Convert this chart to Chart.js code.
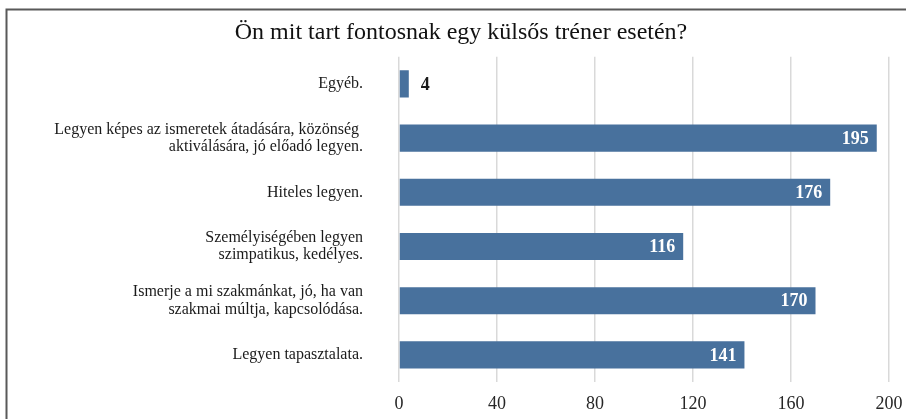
<!DOCTYPE html>
<html>
<head>
<meta charset="utf-8">
<script src="https://cdn.jsdelivr.net/npm/chart.js@4"></script>
<style>
  html, body { margin: 0; padding: 0; background: #fff; overflow: hidden; }
  canvas { display: block; }
</style>
</head>
<body>
<canvas id="chart" width="906" height="419"></canvas>
<script>
// data
const titleText = "Ön mit tart fontosnak egy külsős tréner esetén?";
const categories = [
  "Egyéb.",
  ["Legyen képes az ismeretek átadására, közönség ", "aktiválására, jó előadó legyen."],
  "Hiteles legyen.",
  ["Személyiségében legyen", "szimpatikus, kedélyes."],
  ["Ismerje a mi szakmánkat, jó, ha van", "szakmai múltja, kapcsolódása."],
  "Legyen tapasztalata."
];
const answers = [4, 195, 176, 116, 170, 141];
const xTicks = [0, 40, 80, 120, 160, 200];

const serif = "'Liberation Serif', 'Times New Roman', serif";
const barColor = "#48719d";

// the grey frame around the chart (top and left edge visible)
const framePlugin = {
  id: "frame",
  beforeDraw(chart) {
    const ctx = chart.ctx;
    ctx.save();
    ctx.strokeStyle = "#595959";
    ctx.lineWidth = 2;
    ctx.beginPath();
    ctx.moveTo(6.5, chart.height + 2);
    ctx.lineTo(6.5, 9.5);
    ctx.lineTo(chart.width + 2, 9.5);
    ctx.stroke();
    ctx.restore();
  }
};

// value labels: white inside the bar end, black outside for short bars
const valueLabels = {
  id: "valueLabels",
  afterDatasetsDraw(chart) {
    const ctx = chart.ctx;
    const meta = chart.getDatasetMeta(0);
    ctx.save();
    ctx.font = "bold 18px " + serif;
    ctx.textBaseline = "middle";
    meta.data.forEach((bar, i) => {
      const v = answers[i];
      const w = bar.x - bar.base;
      if (w < 40) {
        ctx.fillStyle = "#1a1a1a";
        ctx.textAlign = "left";
        ctx.fillText(String(v), bar.x + 12, bar.y + 1);
      } else {
        ctx.fillStyle = "#ffffff";
        ctx.textAlign = "right";
        ctx.fillText(String(v), bar.x - 8, bar.y + 1);
      }
    });
    ctx.restore();
  }
};

new Chart(document.getElementById("chart"), {
  type: "bar",
  data: {
    labels: categories,
    datasets: [{
      data: answers,
      backgroundColor: barColor,
      borderWidth: 0,
      categoryPercentage: 1,
      barPercentage: 0.5
    }]
  },
  options: {
    indexAxis: "y",
    responsive: false,
    devicePixelRatio: 1,
    animation: false,
    layout: { padding: { left: 33, right: 17, top: 0, bottom: 0 } },
    plugins: {
      legend: { display: false },
      tooltip: { enabled: false },
      title: {
        display: true,
        text: titleText,
        color: "#111",
        font: { family: serif, size: 24, weight: "normal" },
        padding: { top: 18, bottom: 10 }
      }
    },
    scales: {
      x: {
        min: 0,
        max: 200,
        afterBuildTicks(axis) { axis.ticks = xTicks.map(v => ({ value: v })); },
        afterFit(axis) {
          axis.height = 37;
          axis.paddingLeft = 0;
          axis.paddingRight = 0;
        },
        grid: { color: "#d9d9d9", lineWidth: 1.5, drawTicks: false },
        border: { display: false },
        ticks: {
          padding: 11,
          color: "#262626",
          font: { family: serif, size: 18 }
        }
      },
      y: {
        afterFit(axis) {
          axis.width = 366;
          axis.paddingTop = 0;
          axis.paddingBottom = 0;
        },
        grid: { display: false, drawTicks: false },
        border: { display: false },
        ticks: {
          padding: 36,
          color: "#1a1a1a",
          font: { family: serif, size: 16, lineHeight: 1.08 }
        }
      }
    }
  },
  plugins: [framePlugin, valueLabels]
});
</script>
</body>
</html>
